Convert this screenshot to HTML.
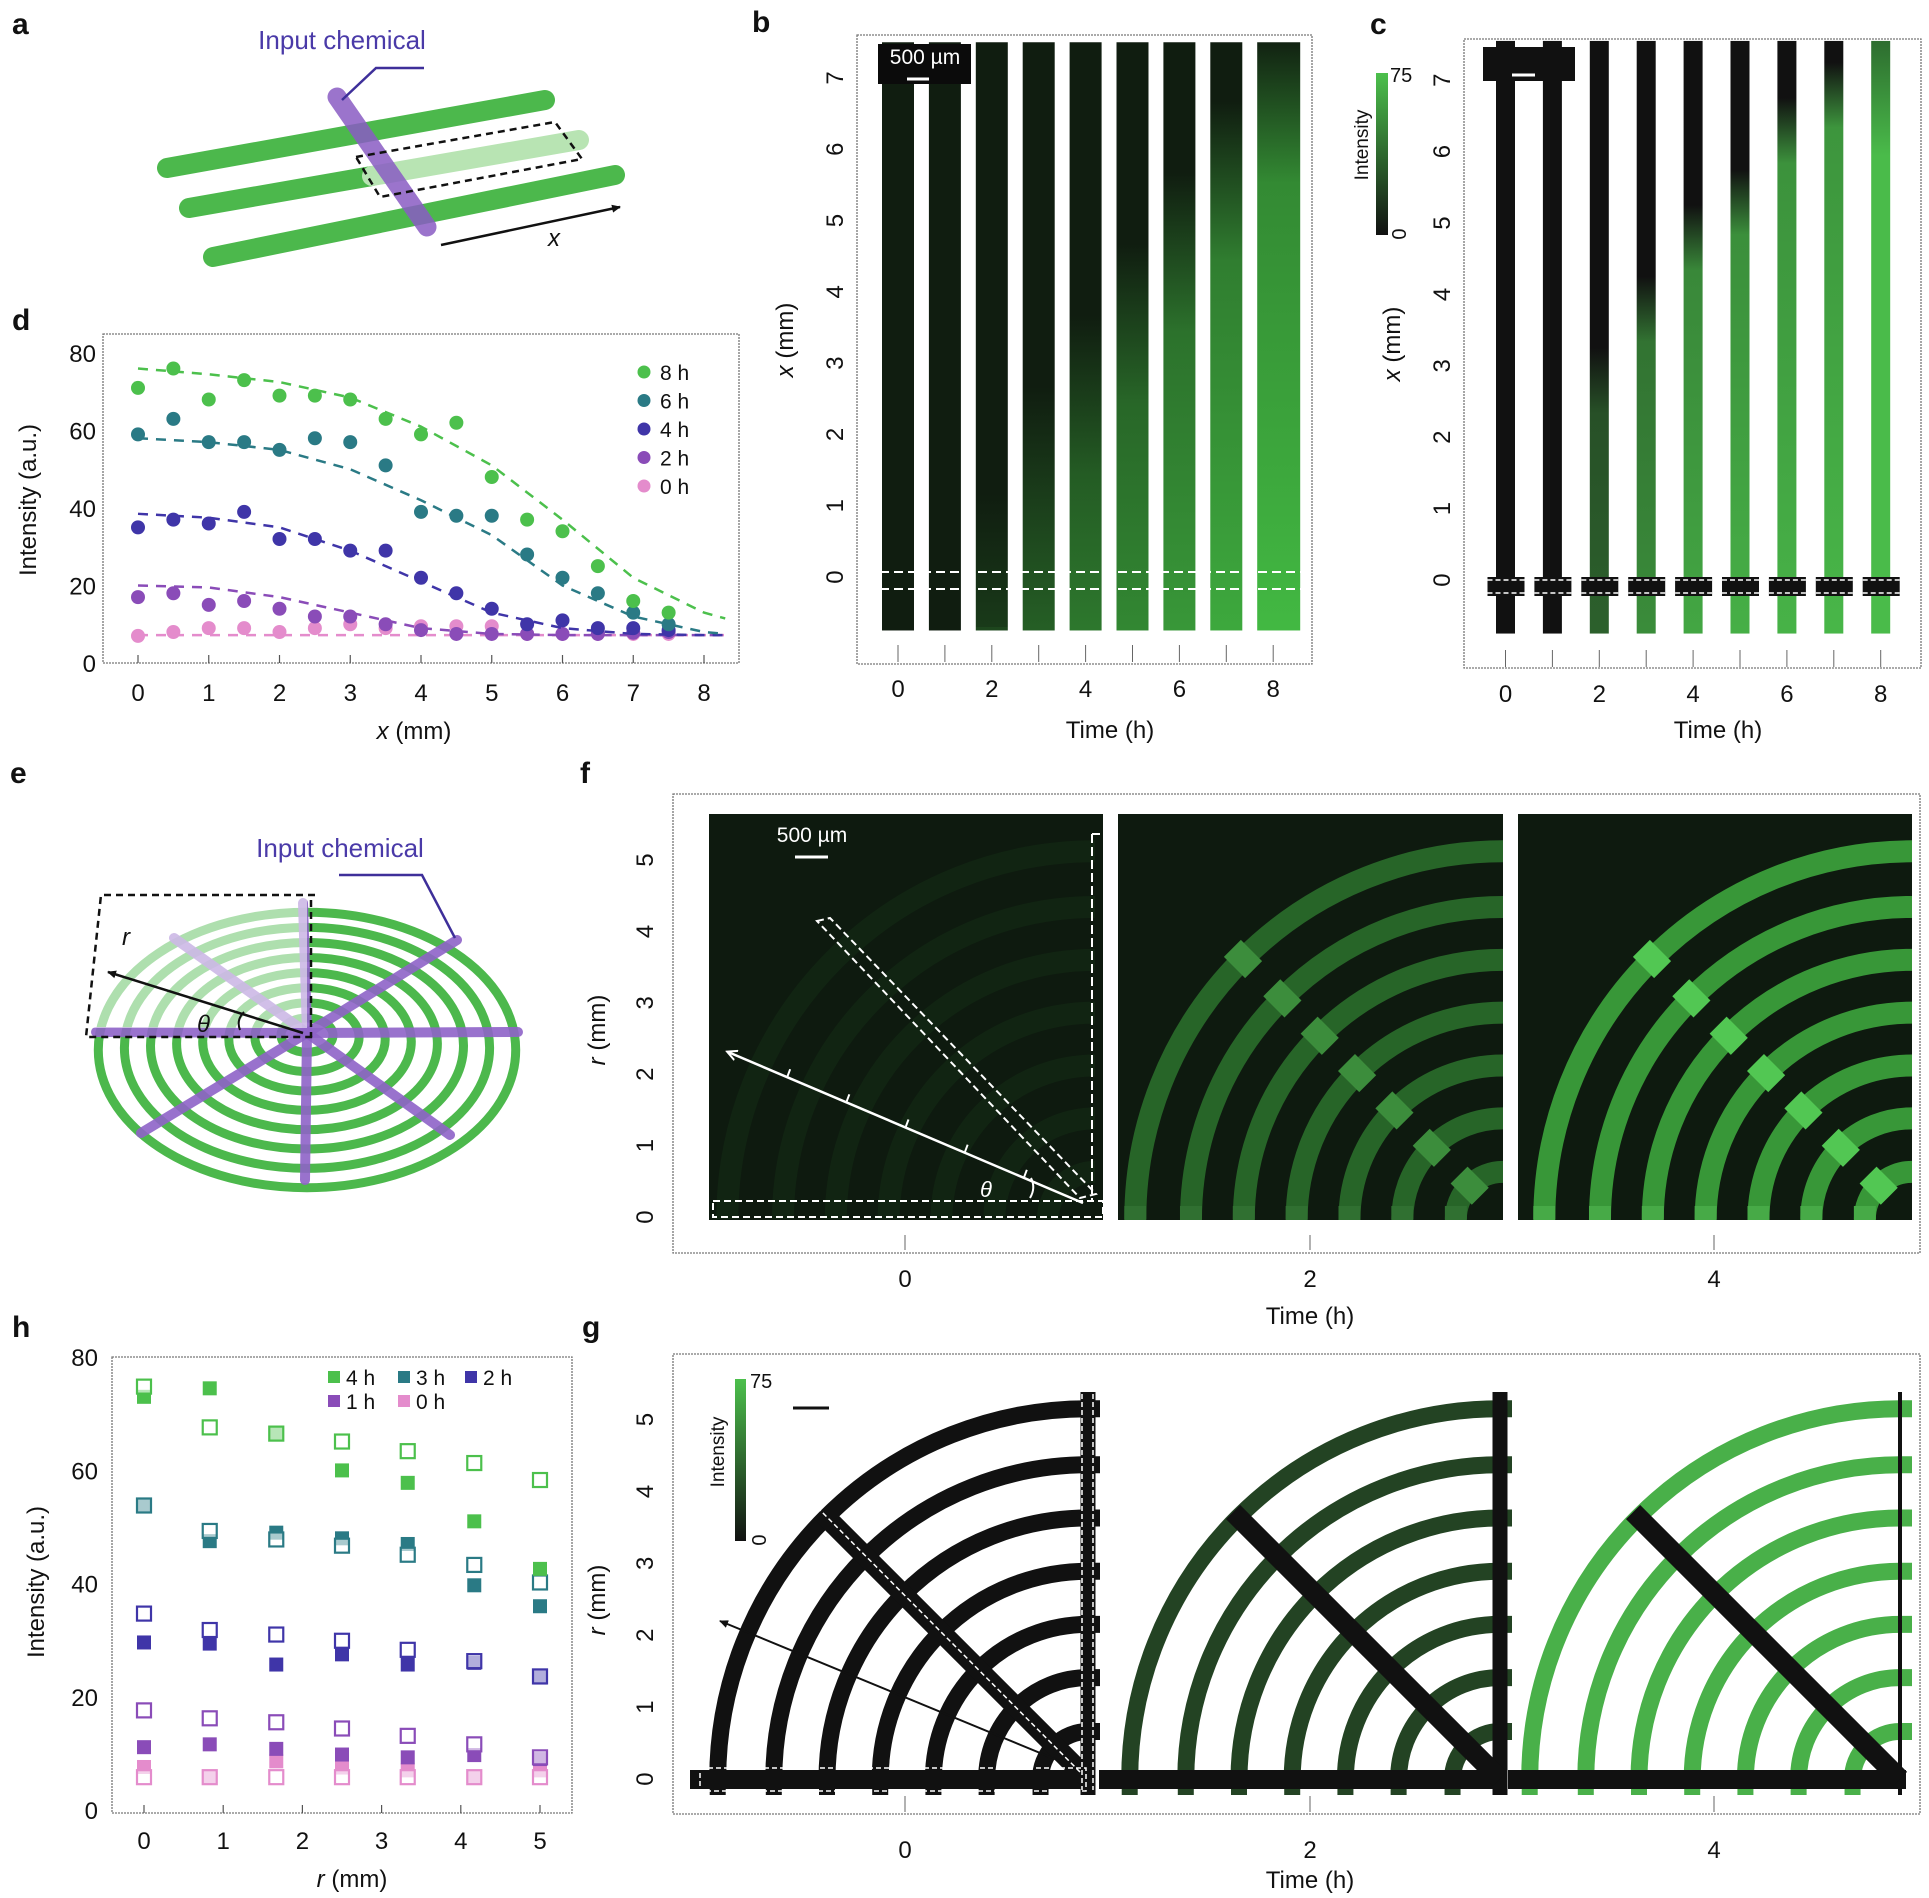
<!DOCTYPE html>
<html><head><meta charset="utf-8">
<style>
html,body{margin:0;padding:0;background:#fff;}
svg{display:block;font-family:"Liberation Sans",Arial,sans-serif;}
</style></head>
<body>
<svg id="fig" xmlns="http://www.w3.org/2000/svg" width="1929" height="1898" viewBox="0 0 1929 1898">
<defs>
<marker id="arrK" markerWidth="10" markerHeight="10" refX="8" refY="5" orient="auto" markerUnits="userSpaceOnUse"><path d="M0,1 L9,5 L0,9 Z" fill="#111"/></marker>
<marker id="arrW" markerWidth="12" markerHeight="12" refX="9" refY="6" orient="auto" markerUnits="userSpaceOnUse"><path d="M0,1 L10,6 L0,11" fill="none" stroke="#fff" stroke-width="2"/></marker>
<linearGradient id="cbar" x1="0" y1="1" x2="0" y2="0"><stop offset="0" stop-color="#111"/><stop offset="1" stop-color="#4cc04c"/></linearGradient>
<clipPath id="clipF1"><rect x="709" y="814" width="394" height="406"/></clipPath>
<clipPath id="clipF2"><rect x="1118" y="814" width="385" height="406"/></clipPath>
<clipPath id="clipF3"><rect x="1518" y="814" width="394" height="406"/></clipPath>
</defs>

<g font-weight="bold" font-size="30" fill="#111">
<text x="12" y="34">a</text>
<text x="752" y="32">b</text>
<text x="1370" y="34">c</text>
<text x="12" y="330">d</text>
<text x="10" y="783">e</text>
<text x="580" y="783">f</text>
<text x="12" y="1337">h</text>
<text x="582" y="1337">g</text>
</g>

<g>
<line x1="167" y1="168" x2="545" y2="100" stroke="#4cb84c" stroke-width="20" stroke-linecap="round"/>
<line x1="189" y1="208" x2="372" y2="176" stroke="#4cb84c" stroke-width="20" stroke-linecap="round"/>
<line x1="372" y1="176" x2="579" y2="140" stroke="#b8e4b3" stroke-width="20" stroke-linecap="round"/>
<line x1="213" y1="257" x2="615" y2="175" stroke="#4cb84c" stroke-width="20" stroke-linecap="round"/>
<line x1="337" y1="97" x2="427" y2="227" stroke="#8a5cc4" stroke-width="19" stroke-linecap="round" opacity="0.85"/>
<polygon points="356,157 555,122 582,159 380,197" fill="none" stroke="#111" stroke-width="2.5" stroke-dasharray="7 5"/>
<polyline points="424,68 376,68 342,100" fill="none" stroke="#3e2f9a" stroke-width="2.5"/>
<text x="342" y="49" text-anchor="middle" font-size="26" fill="#4a3aa8">Input chemical</text>
<line x1="441" y1="245" x2="620" y2="207" stroke="#111" stroke-width="2.5" marker-end="url(#arrK)"/>
<text x="548" y="246" font-size="24" font-style="italic" fill="#111">x</text>
</g>

<g id="schemE"></g>
<g id="panelD"></g>
<g id="panelB"></g>
<g id="panelC"></g>
<g id="panelF"></g>
<g id="panelG"></g>
<g id="panelH"></g>
</svg>

<script>
const dX = [0,0.5,1,1.5,2,2.5,3,3.5,4,4.5,5,5.5,6,6.5,7,7.5];
const d8h = [71,76,68,73,69,69,68,63,59,62,48,37,34,25,16,13];
const d6h = [59,63,57,57,55,58,57,51,39,38,38,28,22,18,13,10];
const d4h = [35,37,36,39,32,32,29,29,22,18,14,10,11,9,9,8.5];
const d2h = [17,18,15,16,14,12,12,10,8.5,7.5,7.5,7.5,7.5,7.5,7.8,8];
const d0h = [7,8,9,9,8,9,10,9,9.5,9.5,9.5,7.5,7.5,7.5,7.5,7.5];
const fitX = [0,1,2,3,4,5,6,7,8,8.3];
const fit8h = [76,74.5,72.5,68.5,61,51,37,22,13,11.5];
const fit6h = [58,57,55,50,42,33,20,12,8,7.5];
const fit4h = [38.5,37.5,35,29,21,13,9,7.5,7.2,7.2];
const fit2h = [20,19.5,17,13,9,7.5,7.2,7.2,7.2,7.2];
const fit0h = [7.2,7.2,7.2,7.2,7.2,7.2,7.2,7.2,7.2,7.2];
const dLabels = ["8 h","6 h","4 h","2 h","0 h"];
const dXTicks = [0,1,2,3,4,5,6,7,8];
const dYTicks = [0,20,40,60,80];

const hR = [0,0.83,1.67,2.5,3.33,4.17,5];
const h4Filled = [73,74.5,66.5,60,57.8,51,42.6];
const h4Open = [74.8,67.6,66.5,65.1,63.4,61.3,58.3];
const h3Filled = [53.8,47.5,49,48,47,39.7,36];
const h3Open = [53.8,49.3,47.8,46.7,45.1,43.3,40.2];
const h2Filled = [29.6,29.4,25.7,27.5,25.7,26,23.4];
const h2Open = [34.7,31.8,31,29.9,28.3,26.3,23.6];
const h1Filled = [11.1,11.6,10.8,9.8,9.3,9.7,9];
const h1Open = [17.6,16.2,15.5,14.4,13.1,11.6,9.3];
const h0Filled = [7.6,5.8,8.6,7.5,7,5.8,7];
const h0Open = [5.8,5.8,5.8,5.8,5.8,5.8,5.8];
const hLabels = ["4 h","3 h","2 h","1 h","0 h"];
const hXTicks = [0,1,2,3,4,5];
const hYTicks = [0,20,40,60,80];

const bTimes = [0,1,2,3,4,5,6,7,8];
const bFront = [0,0,1,2.5,3.5,4.5,5.5,6.5,7.6];
const bBright = [0,0,0.25,0.4,0.55,0.65,0.75,0.85,0.95];
const cFront = [0,0,3.0,4.0,5.0,5.5,6.5,7.0,7.8];
const cBright = [0,0,0.45,0.7,0.85,0.9,0.92,0.94,0.97];
const bcYTicks = [0,1,2,3,4,5,6,7];
const bcXTicks = [0,2,4,6,8];

const fgTimes = [0,2,4];
const ringR = [0.66,1.41,2.15,2.89,3.63,4.37,5.15];
const fBright = [0.06,0.45,0.75];
const gBright = [0.0,0.3,0.95];
const fgYTicks = [0,1,2,3,4,5];

const NS = "http://www.w3.org/2000/svg";
function mk(tag, attrs, parent){const e=document.createElementNS(NS,tag);for(const k in attrs)e.setAttribute(k,attrs[k]);parent.appendChild(e);return e;}
function mix(a,b,t){const pa=[parseInt(a.slice(1,3),16),parseInt(a.slice(3,5),16),parseInt(a.slice(5,7),16)];const pb=[parseInt(b.slice(1,3),16),parseInt(b.slice(3,5),16),parseInt(b.slice(5,7),16)];return "#"+pa.map((v,i)=>Math.round(v+(pb[i]-v)*t).toString(16).padStart(2,"0")).join("");}
const defs = document.querySelector("defs");

(function(){
  const g = document.getElementById("panelD");
  const xd = v => 138 + v*70.75;
  const yd = v => 663 - v*3.875;
  const box = mk("rect",{x:103,y:334,width:636,height:329,fill:"none",stroke:"#777","stroke-width":1.3,"stroke-dasharray":"2 1"},g);
  
  
  dXTicks.forEach(v=>{
    const t = mk("line",{x1:xd(v),x2:xd(v),y1:663,y2:655,stroke:"#555","stroke-width":1.2},g);
    
    
    const l = mk("text",{x:xd(v),y:701,"text-anchor":"middle","font-size":24,fill:"#111"},g);
    l.textContent = v;
    
    
  });
  dYTicks.forEach(v=>{
    const l = mk("text",{x:96,y:yd(v)+9,"text-anchor":"end","font-size":24,fill:"#111"},g);
    l.textContent = v;
    
    
  });
  const yt = mk("text",{x:36,y:500,"text-anchor":"middle","font-size":24,fill:"#111",transform:"rotate(-90 36 500)"},g);
  yt.textContent = "Intensity (a.u.)";
  
  
  const xt = mk("text",{x:414,y:739,"text-anchor":"middle","font-size":24,fill:"#111"},g);
  xt.innerHTML = '<tspan font-style="italic">x</tspan> (mm)';
  
  
  const cols = ["#4cc04c","#2a7a85","#3f35a8","#8a4cb8","#e48ccc"];
  const series = [d8h,d6h,d4h,d2h,d0h];
  const fits = [fit8h,fit6h,fit4h,fit2h,fit0h];
  for(let s=4;s>=0;s--){
    const p = mk("polyline",{points:fitX.map((x,i)=>xd(x)+","+yd(fits[s][i])).join(" "),fill:"none",stroke:cols[s],"stroke-width":2.5,"stroke-dasharray":"10 8"},g);
    
    
    series[s].forEach((v,i)=>{
      const c = mk("circle",{cx:xd(dX[i]),cy:yd(v),r:7,fill:cols[s]},g);
      
      
    });
  }
  dLabels.forEach((lab,i)=>{
    const y = 372 + i*28.5;
    const c = mk("circle",{cx:644,cy:y,r:6.5,fill:cols[i]},g);
    
    
    const t = mk("text",{x:660,y:y+8,"font-size":21,fill:"#111"},g);
    t.textContent = lab;
    
    
  });
})();

(function(){
  const g = document.getElementById("panelH");
  const xh = v => 144 + v*79.2;
  const yh = v => 1810 - v*5.66;
  const box = mk("rect",{x:112,y:1357,width:460,height:456,fill:"none",stroke:"#777","stroke-width":1.3,"stroke-dasharray":"2 1"},g);
  
  
  hXTicks.forEach(v=>{
    const t = mk("line",{x1:xh(v),x2:xh(v),y1:1813,y2:1805,stroke:"#555","stroke-width":1.2},g);
    
    
    const l = mk("text",{x:xh(v),y:1849,"text-anchor":"middle","font-size":24,fill:"#111"},g);
    l.textContent = v;
    
    
  });
  hYTicks.forEach(v=>{
    const l = mk("text",{x:98,y:yh(v)+9,"text-anchor":"end","font-size":24,fill:"#111"},g);
    l.textContent = v;
    
    
  });
  const yt = mk("text",{x:44,y:1582,"text-anchor":"middle","font-size":24,fill:"#111",transform:"rotate(-90 44 1582)"},g);
  yt.textContent = "Intensity (a.u.)";
  
  
  const xt = mk("text",{x:352,y:1887,"text-anchor":"middle","font-size":24,fill:"#111"},g);
  xt.innerHTML = '<tspan font-style="italic">r</tspan> (mm)';
  
  
  const cols = ["#4cc04c","#2a7a85","#3f35a8","#8a4cb8","#e48ccc"];
  const filled = [h4Filled,h3Filled,h2Filled,h1Filled,h0Filled];
  const open = [h4Open,h3Open,h2Open,h1Open,h0Open];
  for(let s=4;s>=0;s--){
    filled[s].forEach((v,i)=>{
      const r = mk("rect",{x:xh(hR[i])-7,y:yh(v)-7,width:14,height:14,fill:cols[s]},g);
      
      
    });
    open[s].forEach((v,i)=>{
      const r = mk("rect",{x:xh(hR[i])-7,y:yh(v)-7,width:14,height:14,fill:"#fff","fill-opacity":0.6,stroke:cols[s],"stroke-width":2.2},g);
      
      
    });
  }
  const lpos = [[334,1377],[404,1377],[471,1377],[334,1401],[404,1401]];
  hLabels.forEach((lab,i)=>{
    const r = mk("rect",{x:lpos[i][0]-6,y:lpos[i][1]-6,width:12,height:12,fill:cols[i]},g);
    
    
    const t = mk("text",{x:lpos[i][0]+12,y:lpos[i][1]+8,"font-size":21,fill:"#111"},g);
    t.textContent = lab;
    
    
  });
})();

(function(){
  const g = document.getElementById("panelB");
  const xt = t => 898 + t*46.9;
  const yb = v => 577 - v*71.3;
  const box = mk("rect",{x:857,y:35,width:455,height:629,fill:"none",stroke:"#777","stroke-width":1.3,"stroke-dasharray":"2 1"},g);
  
  
  bTimes.forEach((t,i)=>{
    const gid = "gb"+i;
    const lg = mk("linearGradient",{id:gid,x1:0,y1:yb(7.6),x2:0,y2:yb(-0.7),gradientUnits:"userSpaceOnUse"},defs);
    const dark = "#101d10";
    const bright = mix(dark,"#45c045",bBright[i]);
    const f = bFront[i];
    const top = (yb(f)-yb(7.6))/(yb(-0.7)-yb(7.6));
    mk("stop",{offset:Math.max(0,top-0.02),"stop-color":dark},lg);
    mk("stop",{offset:Math.min(1,Math.max(0,top)+0.25),"stop-color":mix(dark,bright,0.7)},lg);
    mk("stop",{offset:1,"stop-color":bright},lg);
    const w = i===8 ? 43 : 32;
    const r = mk("rect",{x:xt(t)-16,y:yb(7.5),width:w,height:yb(-0.75)-yb(7.5),fill:"url(#"+gid+")"},g);
    
    
    const tk = mk("line",{x1:xt(t),x2:xt(t),y1:645,y2:662,stroke:"#666","stroke-width":1},g);
    
    
  });
  bcXTicks.forEach(v=>{
    const l = mk("text",{x:xt(v),y:697,"text-anchor":"middle","font-size":24,fill:"#111"},g);
    l.textContent = v;
    
    
  });
  bcYTicks.forEach(v=>{
    const l = mk("text",{x:843,y:yb(v),"text-anchor":"middle","font-size":24,fill:"#111",transform:"rotate(-90 843 "+yb(v)+")"},g);
    l.textContent = v;
    
    
  });
  const sb = mk("rect",{x:878,y:44,width:93,height:40,fill:"#0b0b0b"},g);
  
  
  const sbt = mk("text",{x:925,y:64,"text-anchor":"middle","font-size":21,fill:"#fff"},g);
  sbt.textContent = "500 µm";
  
  
  mk("line",{x1:907,x2:929,y1:79,y2:79,stroke:"#fff","stroke-width":3},g);
  [572,589].forEach(y=>{
    const l = mk("line",{x1:880,x2:1312,y1:y,y2:y,stroke:"#fff","stroke-width":2,"stroke-dasharray":"9 5"},g);
    
    
  });
  const yt = mk("text",{x:793,y:340,"text-anchor":"middle","font-size":24,fill:"#111",transform:"rotate(-90 793 340)"},g);
  yt.innerHTML = '<tspan font-style="italic">x</tspan> (mm)';
  
  
  const tt = mk("text",{x:1110,y:738,"text-anchor":"middle","font-size":24,fill:"#111"},g);
  tt.textContent = "Time (h)";
  
  
})();

(function(){
  const g = document.getElementById("panelC");
  const xt = t => 1505.5 + t*46.9;
  const yc = v => 580 - v*71.4;
  const box = mk("rect",{x:1464,y:39,width:457,height:629,fill:"none",stroke:"#777","stroke-width":1.3,"stroke-dasharray":"2 1"},g);
  
  
  bTimes.forEach((t,i)=>{
    const gid = "gc"+i;
    const lg = mk("linearGradient",{id:gid,x1:0,y1:yc(7.6),x2:0,y2:yc(-0.7),gradientUnits:"userSpaceOnUse"},defs);
    const dark = "#111111";
    const bright = mix(dark,"#4cc04c",cBright[i]);
    const f = cFront[i];
    const top = (yc(f)-yc(7.6))/(yc(-0.7)-yc(7.6));
    if(i===8){
      mk("stop",{offset:0,"stop-color":"#2c6a2e"},lg);
      mk("stop",{offset:0.2,"stop-color":bright},lg);
    } else {
      mk("stop",{offset:Math.max(0,top-0.03),"stop-color":dark},lg);
      mk("stop",{offset:Math.min(1,Math.max(0,top)+0.08),"stop-color":mix(dark,bright,0.8)},lg);
    }
    mk("stop",{offset:1,"stop-color":bright},lg);
    const r = mk("rect",{x:xt(t)-9.5,y:yc(7.55),width:19,height:yc(-0.75)-yc(7.55),fill:"url(#"+gid+")"},g);
    
    
    const cap = mk("rect",{x:xt(t)-18,y:577,width:37,height:19,fill:"#111"},g);
    
    
    mk("line",{x1:xt(t)-18,x2:xt(t)+19,y1:580,y2:580,stroke:"#fff","stroke-width":1.5,"stroke-dasharray":"5 3"},g);
    mk("line",{x1:xt(t)-18,x2:xt(t)+19,y1:593,y2:593,stroke:"#fff","stroke-width":1.5,"stroke-dasharray":"5 3"},g);
    const tk = mk("line",{x1:xt(t),x2:xt(t),y1:650,y2:667,stroke:"#666","stroke-width":1},g);
    
    
  });
  const tb = mk("rect",{x:1483,y:47,width:92,height:34,fill:"#111"},g);
  
  
  mk("line",{x1:1512,x2:1535,y1:75,y2:75,stroke:"#fff","stroke-width":3},g);
  bcXTicks.forEach(v=>{
    const l = mk("text",{x:xt(v),y:702,"text-anchor":"middle","font-size":24,fill:"#111"},g);
    l.textContent = v;
    
    
  });
  bcYTicks.forEach(v=>{
    const l = mk("text",{x:1450,y:yc(v),"text-anchor":"middle","font-size":24,fill:"#111",transform:"rotate(-90 1450 "+yc(v)+")"},g);
    l.textContent = v;
    
    
  });
  const cb = mk("rect",{x:1376,y:73,width:12,height:162,fill:"url(#cbar)"},g);
  
  
  const c75 = mk("text",{x:1390,y:82,"font-size":20,fill:"#111"},g);
  c75.textContent = "75";
  
  
  const c0 = mk("text",{x:1406,y:234,"font-size":20,fill:"#111",transform:"rotate(-90 1406 234)","text-anchor":"middle"},g);
  c0.textContent = "0";
  
  
  const ci = mk("text",{x:1368,y:145,"font-size":19,fill:"#111","text-anchor":"middle",transform:"rotate(-90 1368 145)"},g);
  ci.textContent = "Intensity";
  
  
  const yt = mk("text",{x:1400,y:344,"text-anchor":"middle","font-size":24,fill:"#111",transform:"rotate(-90 1400 344)"},g);
  yt.innerHTML = '<tspan font-style="italic">x</tspan> (mm)';
  
  
  const tt = mk("text",{x:1718,y:738,"text-anchor":"middle","font-size":24,fill:"#111"},g);
  tt.textContent = "Time (h)";
  
  
})();

(function(){
  const g = document.getElementById("panelF");
  const MM = 71.4;
  const yf = v => 1217 - v*MM;
  const box = mk("rect",{x:673,y:794,width:1247,height:459,fill:"none",stroke:"#777","stroke-width":1.3,"stroke-dasharray":"2 1"},g);
  
  
  const rects = [[709,394,1095],[1118,385,1503],[1518,394,1912]];
  const tickX = [905,1310,1714];
  fgTimes.forEach((t,p)=>{
    const [x0,w,ox] = rects[p];
    const oy = 1219;
    const cg = mk("g",{"clip-path":"url(#clipF"+(p+1)+")"},g);
    const bg = mk("rect",{x:x0,y:814,width:w,height:406,fill:"#0e1a0f"},cg);
    
    
    const col = mix("#0e1a0f","#46c046",fBright[p]);
    ringR.forEach(rm=>{
      const r = rm*MM;
      const a = mk("path",{d:"M"+(ox-r)+","+oy+" A"+r+","+r+" 0 0 1 "+ox+","+(oy-r),fill:"none",stroke:col,"stroke-width":22},cg);
      
      
      if(p>0){
        const cx = ox - r*Math.SQRT1_2, cy = oy - r*Math.SQRT1_2;
        const pt = mk("rect",{x:cx-12,y:cy-15,width:24,height:30,fill:mix("#0e1a0f","#5ada5a",fBright[p]+0.15),transform:"rotate(-45 "+cx+" "+cy+")"},cg);
        
        
        const bt = mk("rect",{x:ox-r-11,y:1206,width:22,height:14,fill:mix("#0e1a0f","#5ada5a",fBright[p])},cg);
        
        
      }
    });
    const tk = mk("line",{x1:tickX[p],x2:tickX[p],y1:1235,y2:1250,stroke:"#666","stroke-width":1},g);
    
    
    const l = mk("text",{x:tickX[p],y:1287,"text-anchor":"middle","font-size":24,fill:"#111"},g);
    l.textContent = t;
    
    
  });
  const ar = mk("line",{x1:1083,y1:1203,x2:728,y2:1052,stroke:"#fff","stroke-width":2.5,"marker-end":"url(#arrW)"},g);
  
  
  for(let k=1;k<=5;k++){const px=1083-(1083-728)*k/6, py=1203-(1203-1052)*k/6; mk("line",{x1:px,y1:py,x2:px+3,y2:py-8,stroke:"#fff","stroke-width":2},g);}
  const dr = mk("polygon",{points:"817,921 830,918 1096,1194 1080,1198",fill:"none",stroke:"#fff","stroke-width":2,"stroke-dasharray":"7 4"},g);
  
  
  const hr = mk("rect",{x:713,y:1201,width:390,height:16,fill:"none",stroke:"#fff","stroke-width":2,"stroke-dasharray":"7 4"},g);
  
  
  mk("line",{x1:1092,x2:1092,y1:834,y2:1201,stroke:"#fff","stroke-width":2,"stroke-dasharray":"9 4"},g);
  mk("line",{x1:1092,x2:1100,y1:834,y2:834,stroke:"#fff","stroke-width":2},g);
  const th = mk("text",{x:980,y:1197,"font-size":22,"font-style":"italic",fill:"#fff"},g);
  th.textContent = "θ";
  
  
  mk("path",{d:"M1030,1198 Q1036,1188 1031,1178",fill:"none",stroke:"#fff","stroke-width":2},g);
  const sbt = mk("text",{x:812,y:842,"text-anchor":"middle","font-size":21,fill:"#fff"},g);
  sbt.textContent = "500 µm";
  
  
  mk("line",{x1:795,x2:828,y1:857,y2:857,stroke:"#fff","stroke-width":3},g);
  fgYTicks.forEach(v=>{
    const l = mk("text",{x:653,y:yf(v),"text-anchor":"middle","font-size":24,fill:"#111",transform:"rotate(-90 653 "+yf(v)+")"},g);
    l.textContent = v;
    
    
  });
  const yt = mk("text",{x:605,y:1030,"text-anchor":"middle","font-size":24,fill:"#111",transform:"rotate(-90 605 1030)"},g);
  yt.innerHTML = '<tspan font-style="italic">r</tspan> (mm)';
  
  
  const tt = mk("text",{x:1310,y:1324,"text-anchor":"middle","font-size":24,fill:"#111"},g);
  tt.textContent = "Time (h)";
  
  
})();

(function(){
  const g = document.getElementById("panelG");
  const MM = 71.9;
  const yg = v => 1779 - v*MM;
  const box = mk("rect",{x:673,y:1354,width:1247,height:460,fill:"none",stroke:"#777","stroke-width":1.3,"stroke-dasharray":"2 1"},g);
  
  
  const pan = [[700,1088],[1109,1500],[1518,1900]];
  const tickX = [905,1310,1714];
  fgTimes.forEach((t,p)=>{
    const [x0,ox] = pan[p];
    const oy = 1779;
    const col = mix("#111111","#4cb84c",gBright[p]);
    ringR.forEach(rm=>{
      const r = rm*MM;
      const a = mk("path",{d:"M"+(ox-r)+","+oy+" A"+r+","+r+" 0 0 1 "+ox+","+(oy-r)+" L"+(ox+12)+","+(oy-r),fill:"none",stroke:col,"stroke-width":17},g);
      
      
      const st = mk("rect",{x:ox-r-8,y:oy+4,width:16,height:12,fill:col},g);
      
      
    });
    const hb = mk("rect",{x:x0-10,y:1770,width:ox-x0+16,height:19,fill:"#111"},g);
    
    
    const vw = p===2 ? 4 : 15;
    const vb = mk("rect",{x:ox-vw/2,y:1392,width:vw,height:403,fill:"#111"},g);
    
    
    const dl = 5.25*MM;
    const db = mk("line",{x1:ox,y1:oy,x2:ox-dl*Math.SQRT1_2,y2:oy-dl*Math.SQRT1_2,stroke:"#111","stroke-width":20},g);
    
    
    const tk = mk("line",{x1:tickX[p],x2:tickX[p],y1:1796,y2:1812,stroke:"#666","stroke-width":1},g);
    
    
    const l = mk("text",{x:tickX[p],y:1858,"text-anchor":"middle","font-size":24,fill:"#111"},g);
    l.textContent = t;
    
    
  });
  mk("rect",{x:700,y:1768,width:386,height:23,fill:"none",stroke:"#fff","stroke-width":1.5,"stroke-dasharray":"5 3"},g);
  mk("line",{x1:1082,x2:1082,y1:1394,y2:1790,stroke:"#fff","stroke-width":1.5,"stroke-dasharray":"5 3"},g);
  mk("line",{x1:1093,x2:1093,y1:1394,y2:1790,stroke:"#fff","stroke-width":1.5,"stroke-dasharray":"5 3"},g);
  mk("line",{x1:1080,y1:1772,x2:818,y2:1508,stroke:"#fff","stroke-width":1.5,"stroke-dasharray":"5 3"},g);
  const ar = mk("line",{x1:1062,y1:1762,x2:720,y2:1621,stroke:"#111","stroke-width":2,"marker-end":"url(#arrK)"},g);
  
  
  const cb = mk("rect",{x:735,y:1379,width:11,height:162,fill:"url(#cbar)"},g);
  
  
  const c75 = mk("text",{x:750,y:1388,"font-size":20,fill:"#111"},g);
  c75.textContent = "75";
  
  
  const c0 = mk("text",{x:766,y:1540,"font-size":20,fill:"#111","text-anchor":"middle",transform:"rotate(-90 766 1540)"},g);
  c0.textContent = "0";
  
  
  const ci = mk("text",{x:724,y:1452,"font-size":19,fill:"#111","text-anchor":"middle",transform:"rotate(-90 724 1452)"},g);
  ci.textContent = "Intensity";
  
  
  mk("line",{x1:793,x2:829,y1:1408,y2:1408,stroke:"#111","stroke-width":3},g);
  fgYTicks.forEach(v=>{
    const l = mk("text",{x:653,y:yg(v),"text-anchor":"middle","font-size":24,fill:"#111",transform:"rotate(-90 653 "+yg(v)+")"},g);
    l.textContent = v;
    
    
  });
  const yt = mk("text",{x:605,y:1600,"text-anchor":"middle","font-size":24,fill:"#111",transform:"rotate(-90 605 1600)"},g);
  yt.innerHTML = '<tspan font-style="italic">r</tspan> (mm)';
  
  
  const tt = mk("text",{x:1310,y:1888,"text-anchor":"middle","font-size":24,fill:"#111"},g);
  tt.textContent = "Time (h)";
  
  
})();

(function(){
  const g = document.getElementById("schemE");
  for(let i=7;i>=0;i--){
    const rx = 26 + 26.1*i;
    const e = mk("ellipse",{cx:307,cy:1033+17*rx/209,rx:rx,ry:rx*0.66,fill:"none",stroke:"#4cb84c","stroke-width":9},g);
    
    
  }
  const spokes = [[518,1032],[303,903],[457,940],[450,1135],[305,1180],[141,1133],[96,1032],[174,938]];
  spokes.forEach(s=>{
    const l = mk("line",{x1:307,y1:1033,x2:s[0],y2:s[1],stroke:"#8f63c8","stroke-width":10,"stroke-linecap":"round",opacity:0.9},g);
    
    
  });
  const ov = mk("rect",{x:80,y:880,width:227,height:148,fill:"#fff",opacity:0.55},g);
  
  
  const db = mk("polyline",{points:"315,895 101,895 86,1037 315,1037",fill:"none",stroke:"#111","stroke-width":2.5,"stroke-dasharray":"7 5"},g);
  
  
  mk("line",{x1:311,y1:900,x2:311,y2:1037,stroke:"#111","stroke-width":2.5,"stroke-dasharray":"7 5"},g);
  const ar = mk("line",{x1:303,y1:1033,x2:108,y2:972,stroke:"#111","stroke-width":2.5,"marker-end":"url(#arrK)"},g);
  
  
  const r = mk("text",{x:122,y:945,"font-size":24,"font-style":"italic",fill:"#111"},g);
  r.textContent = "r";
  
  
  const th = mk("text",{x:197,y:1032,"font-size":24,"font-style":"italic",fill:"#111"},g);
  th.textContent = "θ";
  
  
  mk("path",{d:"M240,1030 Q236,1020 244,1012",fill:"none",stroke:"#111","stroke-width":2},g);
  mk("polyline",{points:"339,875 422,875 455,938",fill:"none",stroke:"#3e2f9a","stroke-width":2.5},g);
  const ic = mk("text",{x:340,y:857,"text-anchor":"middle","font-size":26,fill:"#4a3aa8"},g);
  ic.textContent = "Input chemical";
  
  
})();
</script>
</body></html>
